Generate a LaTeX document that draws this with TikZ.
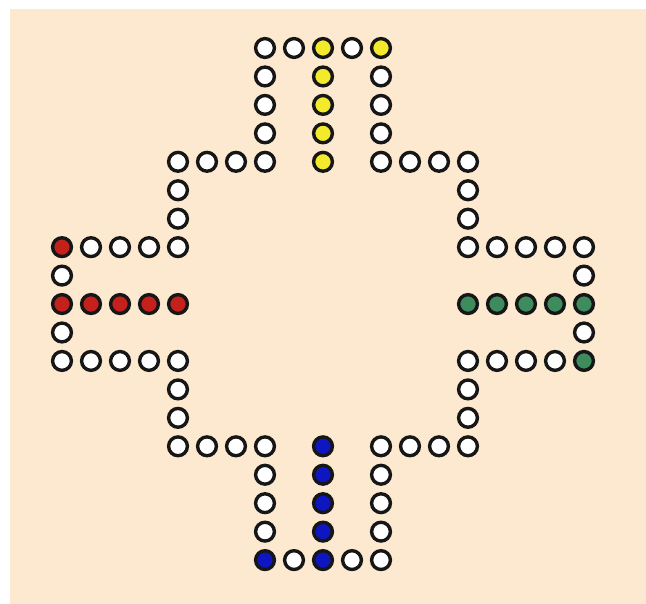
\documentclass[tikz,border=0pt]{standalone}
\usepackage{tikz}
\usetikzlibrary{positioning}
\definecolor{boardBeige}{HTML}{FDE9CF}
\definecolor{pegRed}{HTML}{C4201C}
\definecolor{pegYellow}{HTML}{F2EA2A}
\definecolor{pegGreen}{HTML}{3E8C5E}
\definecolor{pegBlue}{HTML}{0E16C2}
\definecolor{holeLine}{HTML}{161616}
\tikzset{
  hole/.style={circle, draw=holeLine, line width=0.85mm, fill=white, inner sep=0pt, minimum size=4.7mm},
  board/.style={fill=boardBeige, draw=none}
}
\begin{document}
\begin{tikzpicture}[x=0.25mm,y=-0.25mm]
  \fill[white] (0,0) rectangle (646,604);
  \path[board] (10,9) rectangle (646,604);
  % white holes of the track
  \foreach \c/\r in {7/0,8/0,10/0,7/1,11/1,7/2,11/2,7/3,11/3,
                     4/4,5/4,6/4,7/4,11/4,12/4,13/4,14/4,4/5,14/5,4/6,14/6,
                     1/7,2/7,3/7,4/7,14/7,15/7,16/7,17/7,18/7,0/8,18/8,0/10,18/10,
                     0/11,1/11,2/11,3/11,4/11,14/11,15/11,16/11,17/11,
                     4/12,14/12,4/13,14/13,4/14,5/14,6/14,7/14,11/14,12/14,13/14,14/14,
                     7/15,11/15,7/16,11/16,7/17,11/17,8/18,10/18,11/18}
    \node[hole] (h-\c-\r) at (62+29*\c,48+28.45*\r) {};
  % coloured holes
  \foreach \c/\r/\col in {9/0/pegYellow,9/1/pegYellow,9/2/pegYellow,9/3/pegYellow,9/4/pegYellow,11/0/pegYellow,
                          0/7/pegRed,0/9/pegRed,1/9/pegRed,2/9/pegRed,3/9/pegRed,4/9/pegRed,
                          14/9/pegGreen,15/9/pegGreen,16/9/pegGreen,17/9/pegGreen,18/9/pegGreen,18/11/pegGreen,
                          9/14/pegBlue,9/15/pegBlue,9/16/pegBlue,9/17/pegBlue,9/18/pegBlue,7/18/pegBlue}
    \node[hole, fill=\col] (h-\c-\r) at (62+29*\c,48+28.45*\r) {};
\end{tikzpicture}
\end{document}
